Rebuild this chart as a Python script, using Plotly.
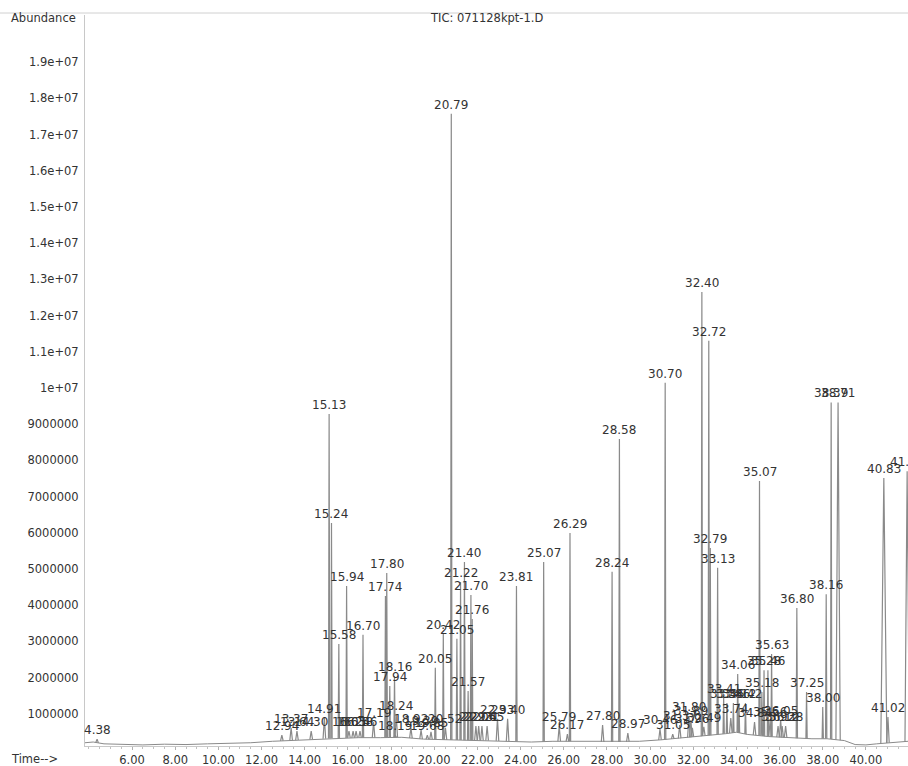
import numpy as np
import plotly.graph_objects as go

# Total ion chromatogram: baseline points (min, abundance)
base_time = [3.82, 4.20, 4.70, 5.50, 6.50, 7.50, 8.50, 9.50, 10.50, 11.50, 12.50,
             13.50, 14.50, 15.50, 16.50, 17.50, 18.50, 19.50, 20.50, 21.50, 22.50,
             23.50, 24.50, 25.50, 26.50, 27.50, 28.50, 29.50, 30.50, 31.50, 32.50,
             33.50, 34.00, 34.50, 35.50, 36.50, 37.50, 38.20, 39.00, 39.50, 40.00,
             40.50, 41.50, 41.95]
base_abund = [0.20e6, 0.22e6, 0.17e6, 0.15e6, 0.14e6, 0.16e6, 0.15e6, 0.17e6, 0.18e6, 0.20e6, 0.24e6,
              0.27e6, 0.30e6, 0.33e6, 0.34e6, 0.34e6, 0.35e6, 0.30e6, 0.28e6, 0.27e6, 0.26e6,
              0.24e6, 0.22e6, 0.24e6, 0.24e6, 0.22e6, 0.22e6, 0.24e6, 0.28e6, 0.33e6, 0.39e6,
              0.45e6, 0.49e6, 0.43e6, 0.37e6, 0.33e6, 0.31e6, 0.31e6, 0.26e6, 0.15e6, 0.14e6,
              0.17e6, 0.22e6, 0.24e6]

# Integrated peaks: retention time (min), apex abundance, printed label
peak_time = [4.38, 12.94, 13.37, 13.64, 14.30, 14.91, 15.13, 15.24, 15.58, 15.94,
             16.05, 16.24, 16.38, 16.56, 16.70, 17.19, 17.74, 17.80, 17.94, 18.16,
             18.19, 18.24, 18.92, 19.39, 19.68, 19.85, 20.05, 20.42, 20.52, 20.79,
             21.05, 21.22, 21.40, 21.57, 21.70, 21.76, 21.93, 22.06, 22.21, 22.45,
             22.93, 23.40, 23.81, 25.07, 25.79, 26.17, 26.29, 27.80, 28.24, 28.58,
             28.97, 30.46, 30.70, 31.05, 31.37, 31.80, 31.89, 31.96, 32.40, 32.49,
             32.72, 32.79, 33.13, 33.41, 33.56, 33.74, 33.86, 34.06, 34.12, 34.42,
             34.84, 35.07, 35.18, 35.28, 35.46, 35.56, 35.63, 35.93, 36.05, 36.12,
             36.28, 36.80, 37.25, 38.00, 38.16, 38.39, 38.71, 40.83, 41.02, 41.91]
peak_abund = [0.30e6, 0.41e6, 0.61e6, 0.52e6, 0.52e6, 0.88e6, 9.28e6, 6.27e6, 2.93e6, 4.53e6,
              0.52e6, 0.52e6, 0.52e6, 0.52e6, 3.18e6, 0.77e6, 4.25e6, 4.89e6, 1.77e6, 2.04e6,
              0.41e6, 0.97e6, 0.61e6, 0.55e6, 0.41e6, 0.50e6, 2.27e6, 3.20e6, 0.61e6, 17.57e6,
              3.07e6, 4.64e6, 5.19e6, 1.63e6, 4.28e6, 3.62e6, 0.66e6, 0.66e6, 0.66e6, 0.66e6,
              0.86e6, 0.86e6, 4.53e6, 5.19e6, 0.66e6, 0.44e6, 5.99e6, 0.69e6, 4.92e6, 8.59e6,
              0.47e6, 0.58e6, 10.14e6, 0.44e6, 0.69e6, 0.94e6, 0.83e6, 0.61e6, 12.65e6, 0.64e6,
              11.30e6, 5.58e6, 5.03e6, 1.44e6, 1.30e6, 0.88e6, 1.30e6, 2.10e6, 1.30e6, 1.30e6,
              0.77e6, 7.43e6, 1.60e6, 2.20e6, 2.20e6, 0.80e6, 2.65e6, 0.66e6, 0.83e6, 0.66e6,
              0.66e6, 3.92e6, 1.60e6, 1.19e6, 4.30e6, 9.60e6, 9.60e6, 7.51e6, 0.91e6, 7.70e6]
peak_label = ["4.38", "12.94", "13.37", "13.64", "14.30", "14.91", "15.13", "15.24", "15.58", "15.94",
              "16.05", "16.24", "16.38", "16.56", "16.70", "17.19", "17.74", "17.80", "17.94", "18.16",
              "18.19", "18.24", "18.92", "19.39", "19.68", "19.85", "20.05", "20.42", "20.52", "20.79",
              "21.05", "21.22", "21.40", "21.57", "21.70", "21.76", "21.93", "22.06", "22.21", "22.45",
              "22.93", "23.40", "23.81", "25.07", "25.79", "26.17", "26.29", "27.80", "28.24", "28.58",
              "28.97", "30.46", "30.70", "31.05", "31.37", "31.80", "31.89", "31.96", "32.40", "32.49",
              "32.72", "32.79", "33.13", "33.41", "33.56", "33.74", "33.86", "34.06", "34.12", "34.42",
              "34.84", "35.07", "35.18", "35.28", "35.46", "35.56", "35.63", "35.93", "36.05", "36.12",
              "36.28", "36.80", "37.25", "38.00", "38.16", "38.39", "38.71", "40.83", "41.02", "41.91"]
# Half-width of each peak at its foot (min)
peak_halfwidth = [0.06 if a < 1e6 else 0.03 for a in peak_abund]
peak_halfwidth[peak_label.index("38.71")] = 0.10
peak_halfwidth[peak_label.index("40.83")] = 0.14
peak_halfwidth[peak_label.index("41.91")] = 0.10

# Axis tick values and printed tick text
x_tick_vals = [6, 8, 10, 12, 14, 16, 18, 20, 22, 24, 26, 28, 30, 32, 34, 36, 38, 40]
x_tick_text = ["6.00", "8.00", "10.00", "12.00", "14.00", "16.00", "18.00", "20.00", "22.00",
               "24.00", "26.00", "28.00", "30.00", "32.00", "34.00", "36.00", "38.00", "40.00"]
y_tick_vals = [1e6, 2e6, 3e6, 4e6, 5e6, 6e6, 7e6, 8e6, 9e6, 10e6,
               11e6, 12e6, 13e6, 14e6, 15e6, 16e6, 17e6, 18e6, 19e6]
y_tick_text = ["1000000", "2000000", "3000000", "4000000", "5000000", "6000000", "7000000",
               "8000000", "9000000", "1e+07", "1.1e+07", "1.2e+07", "1.3e+07", "1.4e+07",
               "1.5e+07", "1.6e+07", "1.7e+07", "1.8e+07", "1.9e+07"]

FONT = "DejaVu Sans, Verdana, sans-serif"
TRACE_COLOR = "#8a8a8a"
TEXT_COLOR = "#333333"

# Each peak is a spike rising from the local baseline
spike_x, spike_y = [], []
for t, a, w in zip(peak_time, peak_abund, peak_halfwidth):
    b0 = float(np.interp(t - w, base_time, base_abund))
    b1 = float(np.interp(t + w, base_time, base_abund))
    spike_x += [t - w, t, t + w, None]
    spike_y += [b0, a, b1, None]

fig = go.Figure()
fig.add_trace(go.Scatter(x=base_time, y=base_abund, mode="lines",
                         line=dict(color=TRACE_COLOR, width=1), hoverinfo="skip"))
fig.add_trace(go.Scatter(x=spike_x, y=spike_y, mode="lines",
                         line=dict(color=TRACE_COLOR, width=1.2), hoverinfo="skip"))

for t, a, lab in zip(peak_time, peak_abund, peak_label):
    fig.add_annotation(x=t, y=a, text=lab, showarrow=False, xanchor="center",
                       yanchor="bottom", yshift=0,
                       font=dict(family=FONT, size=12, color=TEXT_COLOR))

TOP, BOTTOM = 15, 746
plot_w = 908 - 85
plot_h = BOTTOM - TOP
fig.add_annotation(xref="paper", yref="paper", x=(486 - 85) / plot_w, y=1 - (18 - TOP) / plot_h,
                   text="TIC: 071128kpt-1.D", showarrow=False, xanchor="center", yanchor="middle",
                   font=dict(family=FONT, size=11.5, color=TEXT_COLOR))
fig.add_annotation(xref="paper", yref="paper", x=(9 - 85) / plot_w, y=1 - (18 - TOP) / plot_h,
                   text="Abundance", showarrow=False, xanchor="left", yanchor="middle",
                   font=dict(family=FONT, size=11.5, color=TEXT_COLOR))
fig.add_annotation(xref="paper", yref="paper", x=(9 - 85) / plot_w, y=-(759 - BOTTOM) / plot_h,
                   text="Time-->", showarrow=False, xanchor="left", yanchor="middle",
                   font=dict(family=FONT, size=11.5, color=TEXT_COLOR))

# Frame line across the top of the page
fig.add_shape(type="line", xref="paper", yref="paper", x0=-85 / plot_w, x1=1,
              y0=1 + 2 / plot_h, y1=1 + 2 / plot_h, line=dict(color="#d0d0d0", width=1))

fig.update_layout(
    width=908, height=766,
    margin=dict(l=85, r=0, t=TOP, b=766 - BOTTOM),
    paper_bgcolor="white", plot_bgcolor="white",
    showlegend=False,
    font=dict(family=FONT, size=11.5, color=TEXT_COLOR),
)
fig.update_xaxes(range=[3.82, 41.95], tickvals=x_tick_vals, ticktext=x_tick_text,
                 showgrid=False, zeroline=False, showline=True, linecolor="#c8c8c8", linewidth=1,
                 ticks="outside", ticklen=3, tickcolor="#b0b0b0",
                 minor=dict(dtick=0.5, ticks="outside", ticklen=2, tickcolor="#c0c0c0"),
                 tickfont=dict(family=FONT, size=11.5, color=TEXT_COLOR), automargin=False)
fig.update_yaxes(range=[0.11e6, 20.3e6], tickvals=y_tick_vals, ticktext=y_tick_text,
                 showgrid=False, zeroline=False, showline=True, linecolor="#c8c8c8", linewidth=1,
                 ticks="", ticklabelstandoff=3,
                 tickfont=dict(family=FONT, size=11.5, color=TEXT_COLOR), automargin=False)

fig.write_html("out.html")
